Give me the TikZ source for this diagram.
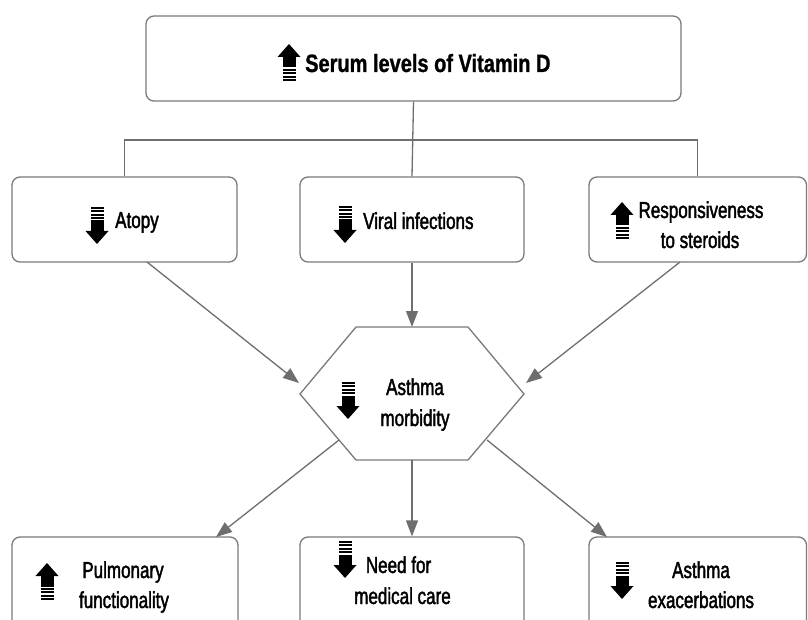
\documentclass[tikz,border=0pt]{standalone}
\usepackage{fontspec}
\setmainfont[FakeStretch=0.74,FakeBold=1.8]{Liberation Sans}
\newfontfamily\titlefont[FakeStretch=0.8,FakeBold=1]{Liberation Sans}
\usetikzlibrary{arrows.meta}
\definecolor{linegray}{HTML}{6E6E6E}
\definecolor{boxgray}{HTML}{7A7A7A}
\tikzset{
  box/.style={draw=boxgray, line width=1.3pt, rounded corners=8pt, fill=white, inner sep=0pt},
  conn/.style={draw=linegray, line width=1.3pt},
  arr/.style={conn, -{Triangle[length=16pt,width=12pt]}, linegray},
  lbl/.style={font=\fontsize{23}{30}\selectfont, inner sep=0pt, text=black},
  ttl/.style={font=\titlefont\bfseries\fontsize{25}{30}\selectfont, inner sep=0pt, text=black},
  upicon/.pic={
    \fill[black] (-11.5,13) -- (0,0) -- (11.5,13) -- cycle;
    \fill[black] (-6.5,12.5) rectangle (6.5,23.5);
    \foreach \s in {25,28.4,31.8,35.2} \fill[black] (-6.5,\s) rectangle (6.5,\s+1.8);
  },
  downicon/.pic={
    \foreach \s in {0,3.4,6.8,10.2} \fill[black] (-6.5,\s) rectangle (6.5,\s+1.8);
    \fill[black] (-6.5,13.5) rectangle (6.5,24.5);
    \fill[black] (-11.5,24) -- (0,37) -- (11.5,24) -- cycle;
  },
}
\begin{document}
\begin{tikzpicture}[x=1pt,y=-1pt]
\useasboundingbox (0,0) rectangle (808,620);
\clip (0,0) rectangle (808,620);

% boxes
\node[box, minimum width=535pt, minimum height=85pt] (top) at (413.5,58.5) {};
\node[box, minimum width=225pt, minimum height=85pt] (atopy) at (124.5,219.5) {};
\node[box, minimum width=224pt, minimum height=85pt] (viral) at (412,219.5) {};
\node[box, minimum width=217.5pt, minimum height=85pt] (resp) at (697.75,219.5) {};
\node[box, minimum width=226pt, minimum height=113pt] (pulm) at (125,593.5) {};
\node[box, minimum width=224pt, minimum height=113pt] (need) at (412,593.5) {};
\node[box, minimum width=217.5pt, minimum height=113pt] (exac) at (697.75,593.5) {};

% hexagon
\coordinate (h1) at (300,394);
\coordinate (h2) at (356,327);
\coordinate (h3) at (468,327);
\coordinate (h4) at (524,394);
\coordinate (h5) at (468,460);
\coordinate (h6) at (356,460);
\draw[draw=boxgray, line width=1.3pt, fill=white] (h1) -- (h2) -- (h3) -- (h4) -- (h5) -- (h6) -- cycle;
\coordinate (htop) at (412,327);
\coordinate (hbot) at (412,460);

% tree connector
\coordinate (bus) at (413.5,140);
\draw[conn] (top.south) -- (viral.north);
\draw[conn] (atopy.north) |- (bus) -| (resp.north);

% arrows
\coordinate (atopyout) at (147,262);
\coordinate (hexinL) at (299,383);
\coordinate (respout) at (680,262);
\coordinate (hexinR) at (526,383);
\coordinate (hexoutL) at (339,440);
\coordinate (pulmin) at (216,537);
\coordinate (hexoutR) at (487,440);
\coordinate (exacin) at (607,537);
\draw[arr] (atopyout) -- (hexinL);
\draw[arr] (viral.south) -- (htop);
\draw[arr] (respout) -- (hexinR);
\draw[arr] (hexoutL) -- (pulmin);
\draw[arr] (hbot) -- (need.north);
\draw[arr] (hexoutR) -- (exacin);

% icons
\pic at (289,44) {upicon};
\pic at (97,207) {downicon};
\pic at (345,206) {downicon};
\pic at (622,202) {upicon};
\pic at (348,382) {downicon};
\pic at (47,563) {upicon};
\pic at (345,541) {downicon};
\pic at (622,562) {downicon};

% texts
\node[ttl, anchor=base west] (ttltext) at (305,72) {Serum levels of Vitamin D};
\node[lbl, anchor=base west] (atopytext) at (115,228) {Atopy};
\node[lbl, anchor=base west] (viraltext) at (363,229) {Viral infections};
\node[lbl, anchor=base] (resptext1) at (701,218) {Responsiveness};
\node[lbl, anchor=base] (resptext2) at (700,248) {to steroids};
\node[lbl, anchor=base] (morbtext1) at (415,395) {Asthma};
\node[lbl, anchor=base] (morbtext2) at (415,426) {morbidity};
\node[lbl, anchor=base] (pulmtext1) at (123,578) {Pulmonary};
\node[lbl, anchor=base] (pulmtext2) at (124,608) {functionality};
\node[lbl, anchor=base] (needtext1) at (398.5,573) {Need for};
\node[lbl, anchor=base] (needtext2) at (402.5,604) {medical care};
\node[lbl, anchor=base] (exactext1) at (701,578) {Asthma};
\node[lbl, anchor=base] (exactext2) at (701,608) {exacerbations};
\end{tikzpicture}
\end{document}
